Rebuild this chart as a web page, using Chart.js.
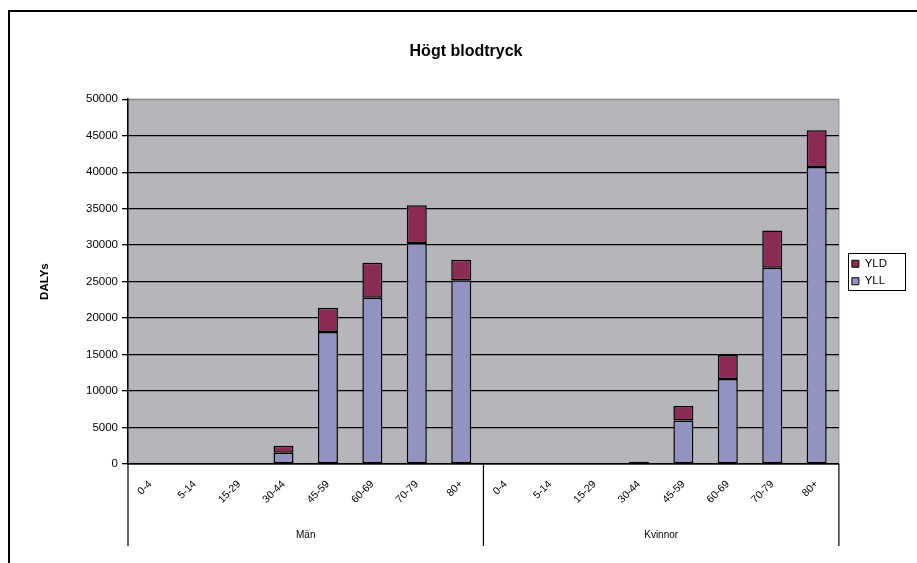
<!DOCTYPE html>
<html>
<head>
<meta charset="utf-8">
<script src="https://cdn.jsdelivr.net/npm/chart.js@4.4.0/dist/chart.umd.min.js"></script>
<style>
  body { margin: 0; background: #fff; }
  #wrap { width: 917px; height: 563px; }
</style>
</head>
<body>
<div id="wrap"><canvas id="chart" width="917" height="563"></canvas></div>
<script>
// data
var ageGroups = ['0-4', '5-14', '15-29', '30-44', '45-59', '60-69', '70-79', '80+'];
var sexes = ['Män', 'Kvinnor'];
var yllMen   = [0, 0, 0, 1550, 18100, 22800, 30300, 25200];
var yldMen   = [0, 0, 0,  950,  3300,  4800,  5150,  2800];
var yllWomen = [0, 0, 0,  100,  5950, 11650, 26900, 40700];
var yldWomen = [0, 0, 0,  200,  2000,  3300,  5100,  5050];
var yTicks = [0, 5000, 10000, 15000, 20000, 25000, 30000, 35000, 40000, 45000, 50000];

var labels = ageGroups.concat(ageGroups);
var yll = yllMen.concat(yllWomen);
var yld = yldMen.concat(yldWomen);

var FONT = '"Liberation Sans", Arial, sans-serif';

// grey plot area, outer frame, group labels and legend box
var decorations = {
    id: 'decorations',
    afterLayout: function (chart) {
        // nudge legend and title to where Excel put them
        var lg = chart.legend;
        if (lg) {
            lg.left += 7; lg.right += 7;
            lg.top -= 9; lg.bottom -= 9;
        }
        var tb = chart.titleBlock;
        if (tb) { tb.left += 21; tb.right += 21; }
    },
    beforeDraw: function (chart) {
        var ctx = chart.ctx, a = chart.chartArea;
        ctx.save();
        ctx.fillStyle = '#fff';
        ctx.fillRect(0, 0, chart.width, chart.height);
        ctx.fillStyle = '#b5b6ba';
        ctx.fillRect(a.left, a.top, a.right - a.left, a.bottom - a.top);
        ctx.strokeStyle = '#8a8a8a';
        ctx.lineWidth = 1;
        ctx.strokeRect(a.left, a.top, a.right - a.left, a.bottom - a.top);
        ctx.restore();
    },
    afterDraw: function (chart) {
        var ctx = chart.ctx, a = chart.chartArea, x = chart.scales.x;
        ctx.save();
        // outer frame
        ctx.strokeStyle = '#000';
        ctx.lineWidth = 2;
        ctx.beginPath();
        ctx.moveTo(9, chart.height);
        ctx.lineTo(9, 11);
        ctx.lineTo(chart.width, 11);
        ctx.stroke();

        // group separators + labels
        var n = ageGroups.length;
        var half = (x.getPixelForValue(1) - x.getPixelForValue(0)) / 2;
        ctx.lineWidth = 1.2;
        ctx.fillStyle = '#000';
        ctx.font = '10px ' + FONT;
        ctx.textAlign = 'center';
        ctx.textBaseline = 'middle';
        for (var g = 0; g <= sexes.length; g++) {
            var px = g < sexes.length ? x.getPixelForValue(g * n) - half : x.getPixelForValue(g * n - 1) + half;
            ctx.beginPath();
            ctx.moveTo(px, a.bottom);
            ctx.lineTo(px, 546);
            ctx.stroke();
        }
        for (var s = 0; s < sexes.length; s++) {
            var cx = (x.getPixelForValue(s * n) + x.getPixelForValue(s * n + n - 1)) / 2;
            ctx.fillText(sexes[s], cx, 535);
        }

        // legend border
        var lg = chart.legend;
        if (lg && lg.legendItems && lg.legendItems.length) {
            ctx.lineWidth = 1;
            ctx.strokeRect(848.5, 253.5, 57, 37);
        }
        ctx.restore();
    }
};

new Chart(document.getElementById('chart'), {
    type: 'bar',
    data: {
        labels: labels,
        datasets: [{
            label: 'YLL',
            data: yll,
            backgroundColor: '#9393c2',
            borderColor: '#000',
            borderWidth: function (c) { return c.raw ? 1.5 : 0; },
            borderSkipped: false,
            barPercentage: 0.45,
            categoryPercentage: 1
        }, {
            label: 'YLD',
            data: yld,
            backgroundColor: '#8b2c57',
            borderColor: '#000',
            borderWidth: function (c) { return c.raw ? 1.5 : 0; },
            borderSkipped: false,
            barPercentage: 0.45,
            categoryPercentage: 1
        }]
    },
    options: {
        responsive: false,
        animation: false,
        layout: { padding: { left: 0, right: 27, top: 0, bottom: 0 } },
        plugins: {
            title: {
                display: true,
                text: 'Högt blodtryck',
                color: '#000',
                font: { family: FONT, size: 16, weight: 'bold' },
                padding: { top: 42, bottom: 38 },
                align: 'center'
            },
            legend: {
                position: 'right',
                reverse: true,
                labels: {
                    color: '#000',
                    font: { family: FONT, size: 11.5 },
                    boxWidth: 7,
                    boxHeight: 7,
                    padding: 6,
                    generateLabels: function (chart) {
                        return chart.data.datasets.map(function (ds, i) {
                            return {
                                text: ds.label,
                                fillStyle: ds.backgroundColor,
                                strokeStyle: '#000',
                                lineWidth: 1,
                                datasetIndex: i,
                                hidden: false
                            };
                        });
                    }
                }
            },
            tooltip: { enabled: false }
        },
        scales: {
            x: {
                stacked: true,
                grid: { display: false },
                border: { display: true, color: '#000', width: 1.5 },
                ticks: {
                    color: '#000',
                    font: { family: FONT, size: 10.5 },
                    minRotation: 45,
                    maxRotation: 45,
                    autoSkip: false,
                    padding: 6
                },
                afterFit: function (scale) { scale.height = 99; }
            },
            y: {
                stacked: true,
                min: 0,
                max: 50000,
                afterBuildTicks: function (scale) {
                    scale.ticks = yTicks.map(function (v) { return { value: v }; });
                },
                grid: {
                    color: function (c) { return c.tick && c.tick.value === 50000 ? '#8a8a8a' : '#000'; },
                    lineWidth: 1.3,
                    tickLength: 6,
                    tickColor: '#000'
                },
                border: { display: true, color: '#000', width: 1.5 },
                ticks: {
                    color: '#000',
                    font: { family: FONT, size: 11.5 },
                    padding: 4,
                    callback: function (v) { return String(v); }
                },
                title: {
                    display: true,
                    text: 'DALYs',
                    color: '#000',
                    font: { family: FONT, size: 11.5, weight: 'bold' },
                    padding: { top: 38, bottom: 0 }
                },
                afterFit: function (scale) { scale.width = 128; }
            }
        }
    },
    plugins: [decorations]
});
</script>
</body>
</html>
